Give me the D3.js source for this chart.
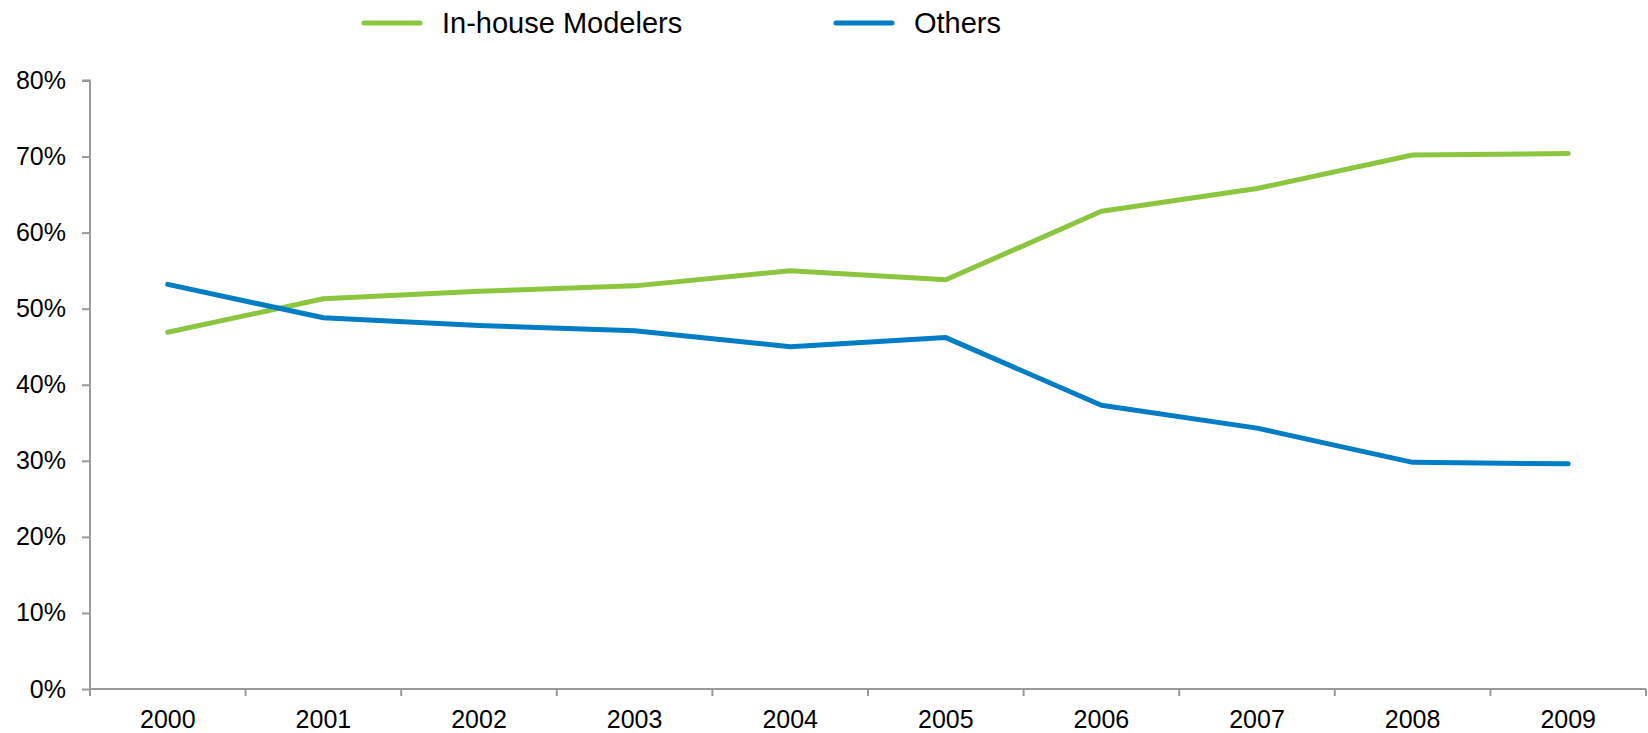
<!DOCTYPE html>
<html>
<head>
<meta charset="utf-8">
<script src="https://cdn.jsdelivr.net/npm/d3@7"></script>
<style>
  html, body { margin: 0; padding: 0; background: #fff; }
  svg { display: block; font-family: "Liberation Sans", Arial, sans-serif; }
</style>
</head>
<body>
<svg id="chart" width="1648" height="733"></svg>
<script>
const years = ["2000","2001","2002","2003","2004","2005","2006","2007","2008","2009"];
const inHouse = [0.469, 0.513, 0.523, 0.530, 0.550, 0.538, 0.628, 0.658, 0.702, 0.704];
const others  = [0.532, 0.488, 0.478, 0.471, 0.450, 0.462, 0.373, 0.343, 0.298, 0.296];
const yTicks = [0, 0.1, 0.2, 0.3, 0.4, 0.5, 0.6, 0.7, 0.8];
const seriesNames = ["In-house Modelers", "Others"];
const seriesColors = ["#8cc63f", "#007dc5"];

const svg = d3.select("#chart");
const mLeft = 90, mRight = 1646, mTop = 80.5, mBottom = 689;
const axisColor = "#9a9a9a";

const x = d3.scaleBand().domain(years).range([mLeft, mRight]).padding(0);
const y = d3.scaleLinear().domain([0, 0.8]).range([mBottom, mTop]);

// Y axis
const yAxis = svg.append("g")
  .attr("transform", `translate(${mLeft},0)`)
  .call(d3.axisLeft(y).tickValues(yTicks).tickFormat(d3.format(".0%")).tickSize(8).tickPadding(16));
yAxis.select(".domain").attr("stroke", axisColor).attr("stroke-width", 2).attr("d", `M-8,${mTop}H0V${mBottom + 7}`);
yAxis.selectAll(".tick line").attr("stroke", axisColor).attr("stroke-width", 2);
yAxis.selectAll(".tick text").attr("font-size", 25).attr("fill", "#000")
  .attr("font-family", "Liberation Sans, Arial, sans-serif");

// X axis (ticks at category boundaries)
const xg = svg.append("g");
xg.append("line").attr("x1", mLeft).attr("x2", mRight).attr("y1", mBottom).attr("y2", mBottom)
  .attr("stroke", axisColor).attr("stroke-width", 2);
const boundaries = years.map(d => x(d)).concat([x.range()[1]]);
xg.selectAll("line.tick").data(boundaries).join("line").attr("class", "tick")
  .attr("x1", d => d).attr("x2", d => d).attr("y1", mBottom).attr("y2", mBottom + 7)
  .attr("stroke", axisColor).attr("stroke-width", 2);
xg.selectAll("text").data(years).join("text")
  .attr("x", d => x(d) + x.bandwidth() / 2).attr("y", 728)
  .attr("text-anchor", "middle").attr("font-size", 25).attr("fill", "#000")
  .text(d => d);

// Lines
const line = d3.line().x((d, i) => x(years[i]) + x.bandwidth() / 2).y(d => y(d));
[inHouse, others].forEach((s, k) => {
  svg.append("path").datum(s).attr("d", line)
    .attr("fill", "none").attr("stroke", seriesColors[k]).attr("stroke-width", 5)
    .attr("stroke-linejoin", "round").attr("stroke-linecap", "round");
});

// Legend
const legendX = [364, 836];
seriesNames.forEach((name, k) => {
  const g = svg.append("g").attr("transform", `translate(${legendX[k]},23)`);
  g.append("line").attr("x1", 0).attr("x2", 56).attr("y1", 0).attr("y2", 0)
    .attr("stroke", seriesColors[k]).attr("stroke-width", 5).attr("stroke-linecap", "round");
  g.append("text").attr("x", 78).attr("y", 10).attr("font-size", 29).attr("fill", "#000").text(name);
});
</script>
</body>
</html>
